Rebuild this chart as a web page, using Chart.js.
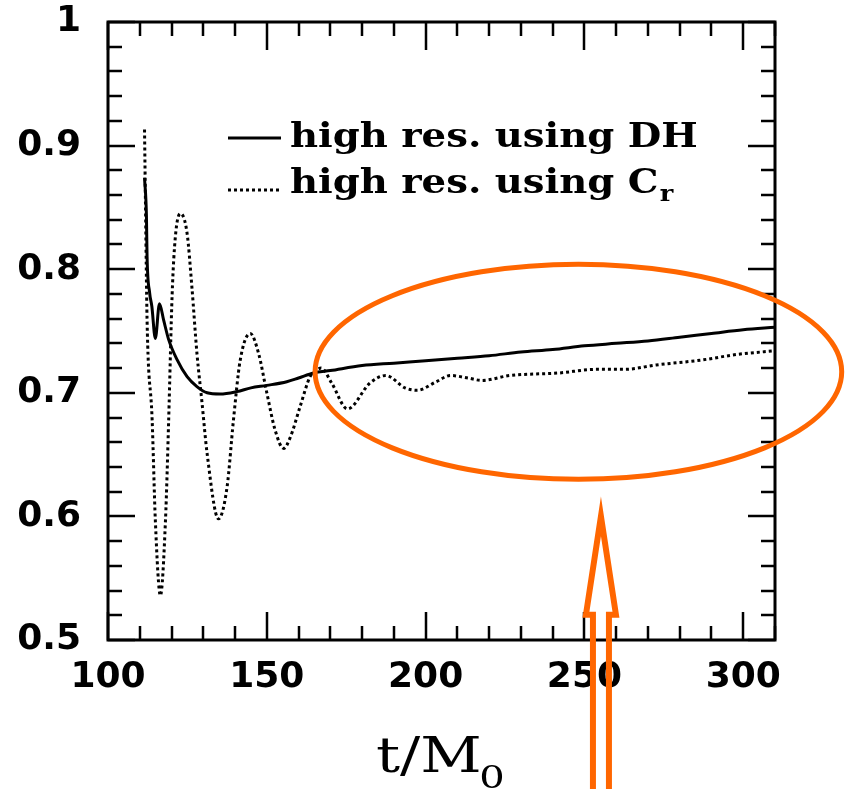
<!DOCTYPE html>
<html>
<head>
<meta charset="utf-8">
<title>high res. comparison</title>
<script src="https://cdn.jsdelivr.net/npm/chart.js@4.4.0/dist/chart.umd.min.js"></script>
<style>
  html, body { margin: 0; padding: 0; background: #fff; }
  #wrap { width: 848px; height: 789px; }
</style>
</head>
<body>
<div id="wrap"><canvas id="chart" width="848" height="789"></canvas></div>
<script>
// ── series: high res. using DH (solid) ─────────────────────────
const tDH = [111.5, 112.1, 112.3, 113.1, 113.8, 114.9, 116.2, 117.5, 119.1, 121.7,
             124.9, 128, 131.2, 135.3, 140.6, 145, 150, 156.3, 160, 164.7,
             170, 180, 190, 200, 210, 220, 230, 240, 250, 260,
             270, 280, 290, 300, 310];
const vDH = [0.874, 0.843, 0.810, 0.781, 0.770, 0.744, 0.772, 0.759, 0.743, 0.727,
             0.713, 0.705, 0.700, 0.699, 0.701, 0.704, 0.706, 0.709, 0.712, 0.716,
             0.718, 0.722, 0.724, 0.726, 0.728, 0.730, 0.733, 0.735, 0.738, 0.740,
             0.742, 0.745, 0.748, 0.751, 0.753];

// ── series: high res. using C_r (dotted) ───────────────────────
const tCr = [111.5, 111.8, 112.3, 113.9, 114.9, 116.5, 118.1, 119.1, 120.2, 121.2,
             122.8, 124.9, 126.4, 128, 129.6, 131.2, 134.8, 137.5, 139.5, 141.6,
             144.8, 147.4, 150, 152.6, 155.3, 157.4, 160.5, 163.6, 165, 167.1,
             170.4, 175.4, 182.5, 187.5, 193.5, 197.3, 203.4, 207.8, 213.3, 217.7,
             226.5, 241.8, 253.9, 262.7, 272.6, 286.9, 297.9, 310];
const vCr = [0.913, 0.853, 0.759, 0.678, 0.597, 0.536, 0.597, 0.678, 0.780, 0.826,
             0.845, 0.829, 0.786, 0.732, 0.692, 0.651, 0.598, 0.624, 0.678, 0.726,
             0.748, 0.732, 0.700, 0.670, 0.655, 0.664, 0.689, 0.713, 0.717, 0.720,
             0.708, 0.687, 0.708, 0.714, 0.704, 0.702, 0.709, 0.714, 0.712, 0.710,
             0.714, 0.716, 0.719, 0.719, 0.7225, 0.7265, 0.731, 0.734];

// ── axes ───────────────────────────────────────────────────────
const xTicks = [100, 150, 200, 250, 300];
const yTicks = [0.5, 0.6, 0.7, 0.8, 0.9, 1];
const xRange = [100, 310];
const yRange = [0.5, 1];
const legendLabels = ["high res. using DH", "high res. using C"];
const legendSub = ["", "r"];
const xTitle = "t/M";
const xTitleSub = "0";

const toPoints = (ts, vs) => ts.map((t, i) => ({ x: t, y: vs[i] }));

/* ── Frame with inward ticks on all four sides ─────────────────*/
const framePlugin = {
  id: "frame",
  afterDraw(chart) {
    const { ctx, chartArea: a, scales: { x, y } } = chart;
    ctx.save();
    ctx.strokeStyle = "#000";
    ctx.lineWidth = 3;
    ctx.strokeRect(a.left, a.top, a.right - a.left, a.bottom - a.top);

    ctx.lineWidth = 2.5;
    ctx.beginPath();
    for (let t = xRange[0]; t <= xRange[1] + 0.001; t += 10) {
      const px = Math.round(x.getPixelForValue(t));
      const len = (Math.round(t) % 50 === 0) ? 28 : 14;
      ctx.moveTo(px, a.bottom); ctx.lineTo(px, a.bottom - len);
      ctx.moveTo(px, a.top); ctx.lineTo(px, a.top + len);
    }
    for (let i = 0; i <= 25; i++) {
      const v = yRange[0] + i * 0.02;
      const py = Math.round(y.getPixelForValue(v));
      const len = (i % 5 === 0) ? 27 : 14;
      ctx.moveTo(a.left, py); ctx.lineTo(a.left + len, py);
      ctx.moveTo(a.right, py); ctx.lineTo(a.right - len, py);
    }
    ctx.stroke();
    ctx.restore();
  }
};

/* ── Legend drawn inside the plot ──────────────────────────────*/
const legendPlugin = {
  id: "innerLegend",
  afterDraw(chart) {
    const { ctx } = chart;
    const rows = [
      { y: 147, lineY: 138, dash: [] },
      { y: 193, lineY: 190, dash: [3, 3] }
    ];
    ctx.save();
    rows.forEach((r, i) => {
      ctx.strokeStyle = "#000";
      ctx.lineWidth = 3;
      ctx.setLineDash(r.dash);
      ctx.beginPath();
      ctx.moveTo(228, r.lineY); ctx.lineTo(281, r.lineY);
      ctx.stroke();
      ctx.setLineDash([]);

      ctx.save();
      ctx.translate(290, r.y);
      ctx.scale(1.17, 1);
      ctx.fillStyle = "#000";
      ctx.textBaseline = "alphabetic";
      ctx.font = "bold 33px 'DejaVu Serif'";
      ctx.fillText(legendLabels[i], 0, 0);
      if (legendSub[i]) {
        const w = ctx.measureText(legendLabels[i]).width;
        ctx.font = "bold 22px 'DejaVu Serif'";
        ctx.fillText(legendSub[i], w + 1, 8);
      }
      ctx.restore();
    });
    ctx.restore();
  }
};

/* ── x-axis title with subscript ───────────────────────────────*/
const titlePlugin = {
  id: "xTitle",
  afterDraw(chart) {
    const { ctx, chartArea: a } = chart;
    const cx = (a.left + a.right) / 2;
    ctx.save();
    ctx.fillStyle = "#000";
    ctx.font = "48px 'DejaVu Serif'";
    const w1 = ctx.measureText(xTitle).width;
    ctx.font = "32px 'DejaVu Serif'";
    const w2 = ctx.measureText(xTitleSub).width;
    const sx = 1.25;
    ctx.translate(cx - (w1 + w2) * sx / 2, 772);
    ctx.scale(sx, 1);
    ctx.font = "48px 'DejaVu Serif'";
    ctx.fillText(xTitle, 0, 0);
    ctx.font = "32px 'DejaVu Serif'";
    ctx.fillText(xTitleSub, w1 - 2, 16);
    ctx.restore();
  }
};

/* ── Orange ring and hollow arrow marking the late-time region ─*/
const markupPlugin = {
  id: "markup",
  afterDraw(chart) {
    const { ctx, scales: { x, y }, height } = chart;
    ctx.save();
    ctx.strokeStyle = "#ff6600";
    ctx.lineWidth = 5;

    // ring around t ≈ 165..310
    const cx = x.getPixelForValue(248.1);
    const cy = y.getPixelForValue(0.717);
    const rx = x.getPixelForValue(248.1 + 82.9) - cx;
    const ry = cy - y.getPixelForValue(0.717 + 0.087);
    ctx.beginPath();
    ctx.ellipse(cx, cy, rx, ry, 0, 0, Math.PI * 2);
    ctx.stroke();

    // hollow arrow pointing up at the ring
    const ax = x.getPixelForValue(255.2);
    const tipY = y.getPixelForValue(0.6);
    const baseY = y.getPixelForValue(0.5205);
    ctx.lineWidth = 6;
    ctx.lineJoin = "miter";
    ctx.beginPath();
    ctx.moveTo(ax - 8, height + 10);
    ctx.lineTo(ax - 8, baseY);
    ctx.lineTo(ax - 15, baseY);
    ctx.lineTo(ax, tipY);
    ctx.lineTo(ax + 15, baseY);
    ctx.lineTo(ax + 8, baseY);
    ctx.lineTo(ax + 8, height + 10);
    ctx.stroke();
    ctx.restore();
  }
};

const tickFont = { family: "'DejaVu Sans'", size: 36, weight: "bold" };

const ctx = document.getElementById("chart");
new Chart(ctx, {
  type: "line",
  data: {
    datasets: [
      {
        label: legendLabels[0],
        data: toPoints(tDH, vDH),
        borderColor: "#000",
        borderWidth: 3,
        pointRadius: 0,
        cubicInterpolationMode: "monotone",
        fill: false
      },
      {
        label: legendLabels[1],
        data: toPoints(tCr, vCr),
        borderColor: "#000",
        borderWidth: 3,
        borderDash: [3, 3],
        pointRadius: 0,
        cubicInterpolationMode: "monotone",
        fill: false
      }
    ]
  },
  options: {
    responsive: false,
    animation: false,
    layout: { padding: { top: 22, right: 73, left: 0, bottom: 0 } },
    plugins: { legend: { display: false }, tooltip: { enabled: false } },
    scales: {
      x: {
        type: "linear",
        min: xRange[0], max: xRange[1],
        grid: { display: false, drawTicks: false },
        border: { display: false },
        afterBuildTicks: s => { s.ticks = xTicks.map(v => ({ value: v })); },
        afterFit: s => { s.height = 149; s.paddingLeft = 0; s.paddingRight = 0; },
        ticks: {
          color: "#000",
          padding: 16,
          maxRotation: 0,
          autoSkip: false,
          font: tickFont,
          callback: v => String(v)
        }
      },
      y: {
        type: "linear",
        min: yRange[0], max: yRange[1],
        grid: { display: false, drawTicks: false },
        border: { display: false },
        afterBuildTicks: s => { s.ticks = yTicks.map(v => ({ value: v })); },
        afterFit: s => { s.width = 108; s.paddingTop = 0; s.paddingBottom = 0; },
        ticks: {
          color: "#000",
          padding: 27,
          autoSkip: false,
          font: tickFont,
          callback: v => (v === 1 ? "1" : v.toFixed(1))
        }
      }
    }
  },
  plugins: [framePlugin, legendPlugin, titlePlugin, markupPlugin]
});
</script>
</body>
</html>
